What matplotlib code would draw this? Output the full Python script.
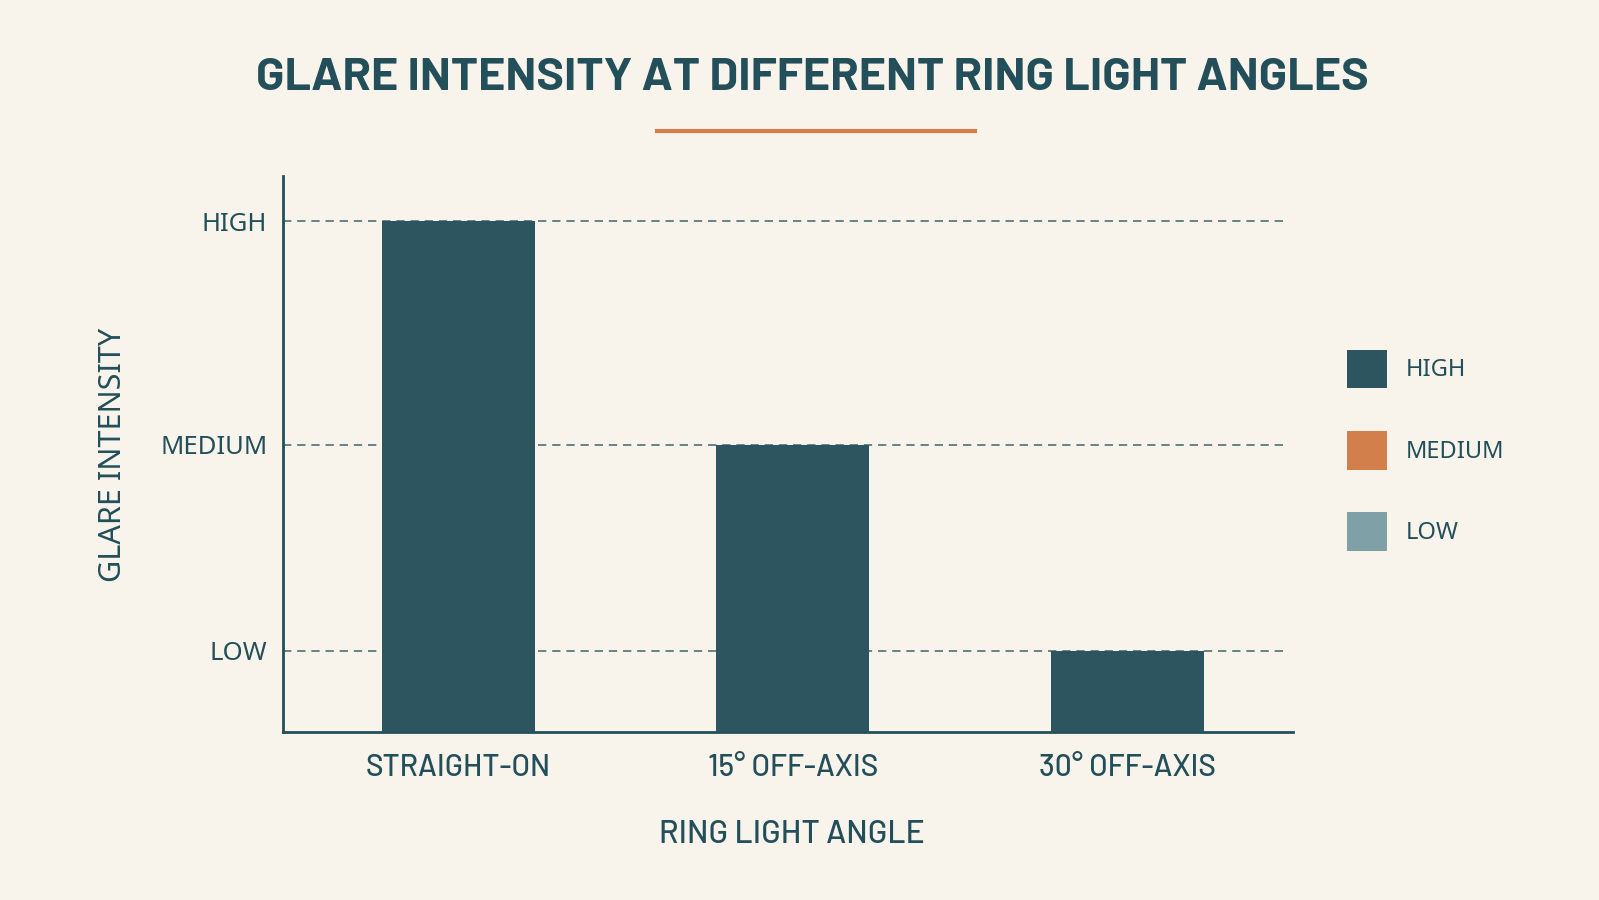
import matplotlib.pyplot as plt
from matplotlib.patches import Patch
from matplotlib.lines import Line2D

# data
angles = ["STRAIGHT-ON", "15° OFF-AXIS", "30° OFF-AXIS"]
level_names = ["LOW", "MEDIUM", "HIGH"]
level_values = [1.0, 1.96, 3.0]
bar_levels = ["HIGH", "MEDIUM", "LOW"]
legend_labels = ["HIGH", "MEDIUM", "LOW"]

bg = "#F8F4EC"
teal = "#2D5560"
text_col = "#234F5A"
orange = "#D27F4B"
light = "#7FA0A6"
legend_colors = [teal, orange, light]

wide = ["Barlow", "DejaVu Sans"]
regular = ["Noto Sans", "DejaVu Sans"]

fig = plt.figure(figsize=(15.99, 9), dpi=100, facecolor=bg)
ax = fig.add_axes([0.1767, 0.1867, 0.632, 0.6178])
ax.set_facecolor(bg)

heights = [level_values[level_names.index(l)] for l in bar_levels]
xs = list(range(len(angles)))
ax.bar(xs, heights, width=0.457, color=teal, zorder=3)

ax.set_xlim(-0.525, 2.496)
ax.set_ylim(0.623, 3.21)

for v in level_values:
    ax.axhline(v, xmin=0, xmax=0.99, color="#4F7078", lw=1.2, ls=(0, (5, 3.5)), zorder=1)

ax.set_yticks(level_values)
ax.set_yticklabels(level_names, family=regular, fontsize=18.5, fontweight="medium", color=text_col)
ax.set_xticks(xs)
ax.set_xticklabels(angles, family=wide, fontsize=21.5, fontweight="medium", color=text_col)
ax.tick_params(axis="both", length=0)
ax.tick_params(axis="y", pad=11)
ax.tick_params(axis="x", pad=16)

for s in ["top", "right"]:
    ax.spines[s].set_visible(False)
for s in ["left", "bottom"]:
    ax.spines[s].set_color(text_col)
    ax.spines[s].set_linewidth(2)

ax.set_xlabel("RING LIGHT ANGLE", family=wide, fontsize=23, fontweight="medium", color=text_col)
ax.xaxis.set_label_coords(0.504, -0.158)
fig.text(0.0705, 0.495, "GLARE INTENSITY", rotation=90, family=regular, fontsize=22,
         color=text_col, ha="center", va="center")

fig.text(0.508, 0.913, "GLARE INTENSITY AT DIFFERENT RING LIGHT ANGLES", family=wide,
         fontweight="bold", fontsize=33.5, color=text_col, ha="center", va="center")
fig.add_artist(Line2D([0.411, 0.61], [0.855, 0.855], color=orange, lw=3))

handles = [Patch(facecolor=c, edgecolor="none") for c in legend_colors]
fig.legend(handles, legend_labels, loc="upper left", bbox_to_anchor=(0.829, 0.635),
           frameon=False, prop={"family": regular, "size": 17, "weight": "medium"},
           labelcolor=text_col, handlelength=1.7, handleheight=2.14, labelspacing=1.8,
           handletextpad=0.8)

fig.savefig("out.png", dpi=100, facecolor=bg)
